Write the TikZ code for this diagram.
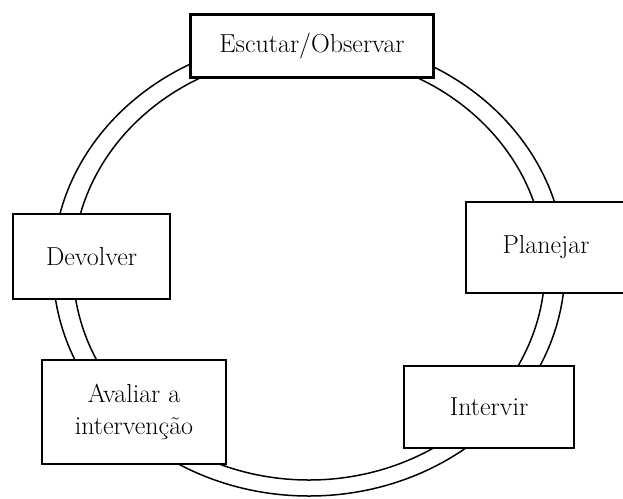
\documentclass[tikz,border=0pt]{standalone}
\usepackage{fontspec}
\setmainfont{Latin Modern Roman}
\begin{document}
\begin{tikzpicture}[x=1pt,y=-1pt,
  stage/.style={draw=black, fill=white, line width=2.1pt, inner sep=0pt, align=center,
    font=\fontsize{26}{32}\selectfont},
  ring/.style={draw=black, line width=1.5pt}]
\useasboundingbox (0,0) rectangle (623,498);
\draw[ring] (309,267) ellipse [x radius=256, y radius=229];
\draw[ring] (309,267) ellipse [x radius=236, y radius=213];
\node[stage, minimum width=243pt, minimum height=63pt] (esc) at (312,46) {Escutar/Observar};
\node[stage, minimum width=157pt, minimum height=85pt] (dev) at (91.5,256.5) {Devolver};
\node[stage, minimum width=160pt, minimum height=91pt] (pla) at (546,247.5) {Planejar};
\node[stage, minimum width=184pt, minimum height=104pt] (ava) at (134,412) {Avaliar a\\intervenção};
\node[stage, minimum width=170pt, minimum height=82pt] (int) at (489,407) {Intervir};
\end{tikzpicture}
\end{document}
